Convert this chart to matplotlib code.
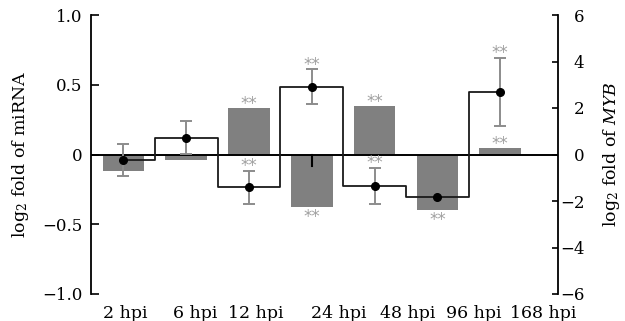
import matplotlib
matplotlib.use('Agg')
import matplotlib.pyplot as plt
import numpy as np

categories = ['2 hpi', '6 hpi', '12 hpi', '24 hpi', '48 hpi', '96 hpi', '168 hpi']
mirna = [-0.12, -0.04, 0.33, -0.375, 0.345, -0.40, 0.045]
mirna_err = [0, 0, 0, 0.08, 0, 0, 0]
mirna_sig = [False, False, True, True, True, True, True]
myb = [-0.25, 0.73, -1.41, 2.91, -1.35, -1.81, 2.69]
myb_err = [0.69, 0.70, 0.70, 0.75, 0.77, 0.0, 1.47]
myb_sig = [False, False, True, True, True, False, True]

# layout
label_x = [0.035, 1.14, 2.1, 3.43, 4.52, 5.58, 6.68]

plt.rcParams['font.family'] = ['DejaVu Serif']
plt.rcParams['mathtext.fontset'] = 'dejavuserif'

W, H = 625, 321
fig = plt.figure(figsize=(W / 100, H / 100), dpi=100)
ax = fig.add_axes([91 / W, 1 - 294 / H, (558 - 91) / W, (294 - 15) / H])
x = np.arange(len(categories))

ax.bar(x, mirna, width=0.66, color='#808080', zorder=2)
# small black error ticks of the bars
for xi, e in zip(x, mirna_err):
    if e > 0:
        ax.plot([xi, xi], [0, -e], color='black', lw=1.5, zorder=3)
ax.axhline(0, color='black', lw=1.4, zorder=3)
ax.set_xlim(-0.515, 6.92)
ax.set_ylim(-1, 1)
ax.set_yticks([-1.0, -0.5, 0, 0.5, 1.0])
ax.set_yticklabels(['\u22121.0', '\u22120.5', '0', '0.5', '1.0'])
ax.set_xticks(label_x)
ax.set_xticklabels(categories)
ax.tick_params(axis='x', length=0, pad=8, labelsize=12.5)
ax.tick_params(axis='y', direction='in', length=6, width=1.2, pad=6, labelsize=12)
for s in ['top', 'bottom', 'right']:
    ax.spines[s].set_visible(False)
ax.spines['left'].set_linewidth(1.3)
ax.set_ylabel(r'$\mathregular{log_2}$ fold of miRNA', fontsize=12.5, labelpad=8)

ax2 = ax.twinx()
ax2.set_ylim(-6, 6)
ax2.set_xlim(-0.515, 6.92)
ex = [xi for xi, e in zip(x, myb_err) if e > 0]
ey = [v for v, e in zip(myb, myb_err) if e > 0]
ee = [e for e in myb_err if e > 0]
ax2.errorbar(ex, ey, yerr=ee, fmt='none', ecolor='#8c8c8c', elinewidth=1.4,
             capsize=4, capthick=1.4, zorder=2)
ax2.step(x, myb, where='mid', color='#1a1a1a', lw=1.3, zorder=3)
ax2.plot(x, myb, 'o', color='black', ms=5.5, zorder=4)
ax2.set_yticks([-6, -4, -2, 0, 2, 4, 6])
ax2.set_yticklabels(['\u22126', '\u22124', '\u22122', '0', '2', '4', '6'])
ax2.tick_params(axis='y', direction='in', length=4.5, width=1.2, pad=19, labelsize=12)
for lbl in ax2.get_yticklabels():
    lbl.set_horizontalalignment('right')
for s in ['top', 'bottom', 'left']:
    ax2.spines[s].set_visible(False)
ax2.spines['right'].set_linewidth(1.3)
ax2.set_ylabel(r'$\mathregular{log_2}$ fold of $\it{MYB}$', fontsize=12.5, labelpad=12)

star_kw = dict(color='#a0a0a0', fontsize=12, ha='center', va='center',
               family='DejaVu Sans', textcoords='offset points', zorder=5)
for xi, v, sg in zip(x, mirna, mirna_sig):
    if sg:
        off = 3 if v > 0 else -7
        ax.annotate('**', (xi, v), xytext=(0, off), **star_kw)
for xi, v, e, sg in zip(x, myb, myb_err, myb_sig):
    if sg:
        ax2.annotate('**', (xi, v + e), xytext=(0, 3.5), **star_kw)

fig.savefig('out.png', dpi=100)
